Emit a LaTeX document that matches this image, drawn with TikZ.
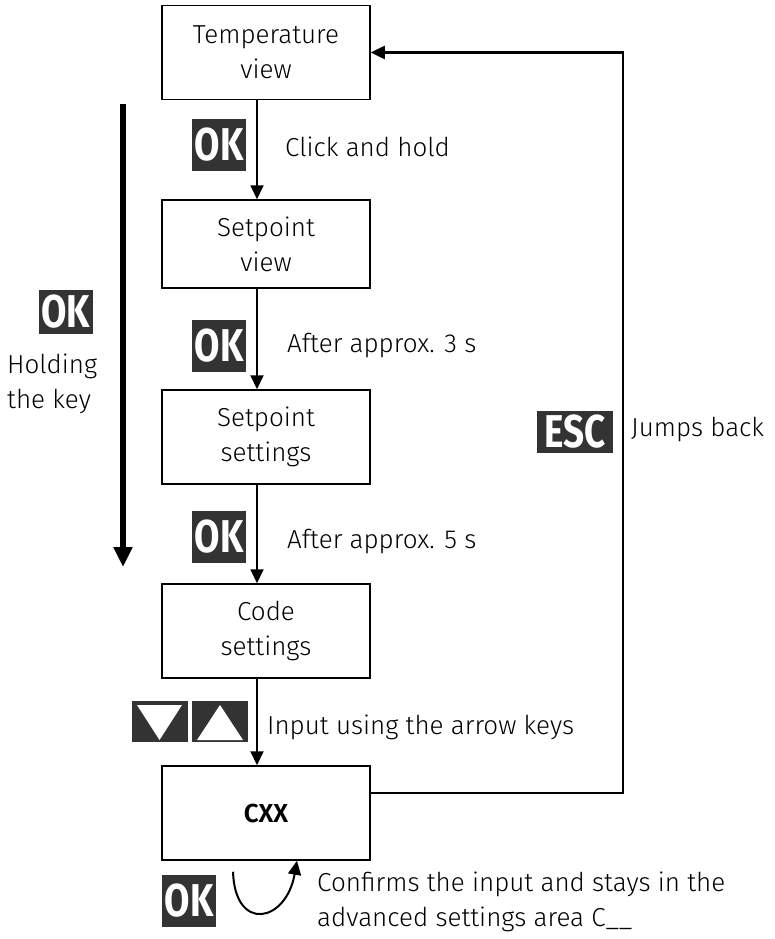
\documentclass[tikz,border=0pt]{standalone}
\usepackage{fontspec}
\setmainfont{Fira Sans Light}[BoldFont={Fira Sans SemiBold}]
\newfontfamily\keyfont{Fira Sans}[FakeStretch=0.8]
\usetikzlibrary{arrows.meta,positioning}
\definecolor{keygrey}{RGB}{51,51,51}

\tikzset{
  statebox/.style={draw, line width=1.5pt, minimum width=208pt, minimum height=94pt,
    align=center, inner sep=0pt},
  flow/.style={line width=2pt, -{Triangle[length=14pt,width=13pt]}},
  keybadge/.style={fill=keygrey, text=white, inner sep=0pt, minimum width=54pt,
    minimum height=52pt, font=\keyfont\bfseries\fontsize{46}{46}\selectfont},
  note/.style={anchor=west, inner sep=0pt, align=left},
}

\begin{document}
\begin{tikzpicture}[x=1pt, y=-1pt, font=\fontsize{26}{35}\selectfont]

  \useasboundingbox (0,0) rectangle (774,939);

  % States
  \node[statebox] (temp) at (266,52.5) {Temperature\\view};
  \node[statebox, minimum height=88pt] (spview) at (266,244) {Setpoint\\view};
  \node[statebox] (spset) at (266,437) {Setpoint\\settings};
  \node[statebox] (code) at (266,631) {Code\\settings};
  \node[statebox, font=\fontsize{26}{34}\selectfont\bfseries] (cxx) at (266,813) {CXX};

  % Steps down
  \draw[flow] ([xshift=-9pt]temp.south) -- ([xshift=-9pt]spview.north);
  \draw[flow] ([xshift=-9pt]spview.south) -- ([xshift=-9pt]spset.north);
  \draw[flow] ([xshift=-9pt]spset.south) -- ([xshift=-9pt]code.north);
  \draw[flow] ([xshift=-9pt]code.south) -- ([xshift=-9pt]cxx.north);

  \node[keybadge] (okclick) at (219,145) {OK};
  \node[note] (lblclick) at (285,147) {Click and hold};
  \node[keybadge] (okthree) at (219,346) {OK};
  \node[note] (lblthree) at (287,346) {After approx. 3 s};
  \node[keybadge] (okfive) at (219,537) {OK};
  \node[note] (lblfive) at (287,541) {After approx. 5 s};

  % Arrow keys
  \node[fill=keygrey, minimum width=56pt, minimum height=41pt, inner sep=0pt] (keydown) at (160,721.5) {};
  \node[fill=keygrey, minimum width=56pt, minimum height=41pt, inner sep=0pt] (keyup) at (220,721.5) {};
  \fill[white] (137,705) -- (182,705) -- (159.5,740) -- cycle;
  \fill[white] (197,740) -- (243,740) -- (220,705) -- cycle;
  \node[note] (lblinput) at (267,727) {Input using the arrow keys};

  % Holding the key
  \coordinate (holdtop) at (123,104);
  \coordinate (holdend) at (123,567);
  \draw[line width=6pt, -{Triangle[length=20pt,width=18pt]}] (holdtop) -- (holdend);
  \node[keybadge, minimum height=44pt] (okhold) at (65.5,312) {OK};
  \node[note] (lblhold) at (7,384) {Holding\\the key};

  % Jump back
  \coordinate (turn) at (623,793);
  \draw[flow, line width=2.5pt] ([yshift=20pt]cxx.east) -- (turn) |- (temp.east);
  \node[keybadge, minimum width=76pt, minimum height=42pt] (esc) at (575,432) {ESC};
  \node[note] (lblesc) at (631,430) {Jumps back};

  % Confirm
  \draw[flow] ([shift={(-33,11)}]cxx.south) .. controls ([shift={(-31,72)}]cxx.south) and ([shift={(20,62)}]cxx.south) .. ([xshift=31pt]cxx.south);
  \node[keybadge] (okconfirm) at (189,901) {OK};
  \node[note] (lblconfirm) at (317,902) {Confirms the input and stays in the\\advanced settings area C\_\_};

\end{tikzpicture}
\end{document}
